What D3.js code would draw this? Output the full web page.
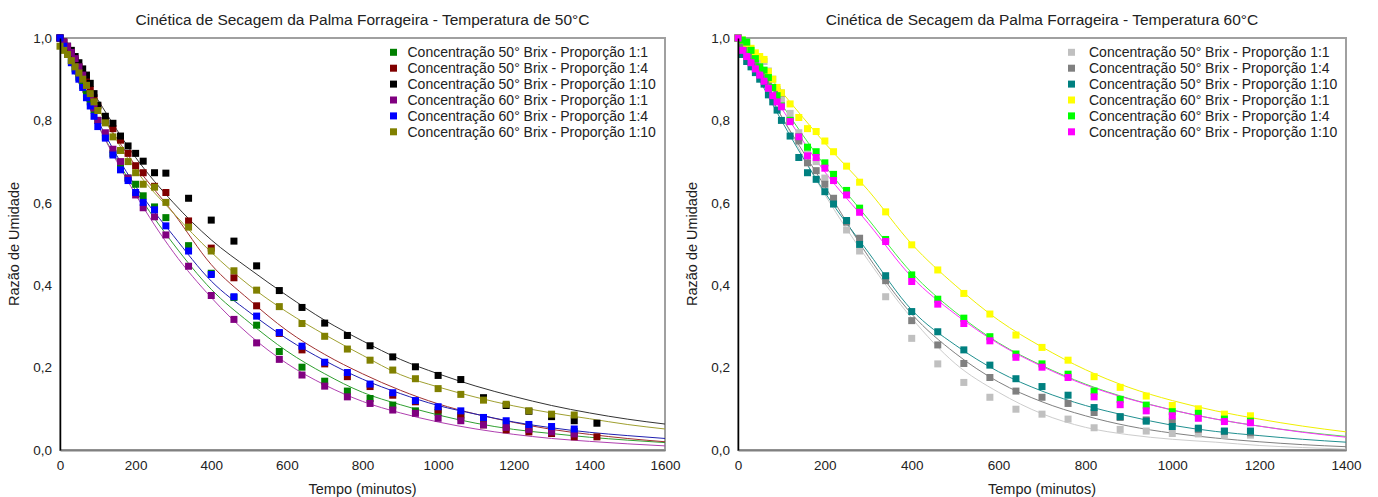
<!DOCTYPE html>
<html>
<head>
<meta charset="utf-8">
<script src="https://cdn.jsdelivr.net/npm/d3@7"></script>
<style>
  body { margin: 0; background: #fff; }
  svg text { font-family: "Liberation Sans", Arial, sans-serif; fill: #222; }
</style>
</head>
<body>
<svg id="chart" width="1378" height="497"></svg>
<script>
// --- data -----------------------------------------------------------------
const timeLeft = [0,10,20,30,40,50,60,70,80,90,100,120,140,160,180,200,220,250,280,
  340,400,460,520,580,640,700,760,820,880,940,1000,1060,1120,1180,1240,1300,1360,1420];
const timeRight = [0,10,20,30,40,50,60,70,80,90,100,120,140,160,180,200,220,250,280,
  340,400,460,520,580,640,700,760,820,880,940,1000,1060,1120,1180];

// 50 °C
const green50_11 = [1.0,0.98,0.96,0.945,0.925,0.905,0.885,0.865,0.845,0.825,0.80,0.76,0.72,0.69,0.66,0.645,0.617,0.59,0.564,
  0.496,0.429,0.37,0.303,0.239,0.201,0.167,0.143,0.125,0.109,0.095,0.091,0.08,0.07,0.062,0.055,0.05,0.045];
const red50_14 = [1.0,0.99,0.975,0.96,0.945,0.93,0.91,0.895,0.875,0.855,0.835,0.80,0.78,0.752,0.72,0.69,0.673,0.64,0.625,
  0.556,0.49,0.418,0.35,0.283,0.243,0.209,0.178,0.154,0.133,0.117,0.097,0.085,0.061,0.049,0.044,0.04,0.032,0.032];
const black50_110 = [1.0,0.99,0.98,0.97,0.955,0.94,0.925,0.91,0.89,0.865,0.837,0.81,0.793,0.762,0.738,0.72,0.701,0.673,0.672,
  0.611,0.558,0.507,0.447,0.387,0.346,0.308,0.278,0.253,0.226,0.202,0.181,0.171,0.127,0.108,0.094,0.081,0.071,0.065];
const purple60_11 = [1.0,0.99,0.98,0.965,0.95,0.93,0.91,0.885,0.86,0.83,0.80,0.77,0.73,0.70,0.66,0.619,0.588,0.566,0.522,
  0.446,0.375,0.317,0.26,0.22,0.182,0.155,0.129,0.113,0.097,0.089,0.077,0.071,0.061,0.055,0.05,0.044,0.039];
const blue60_14 = [1.0,0.98,0.96,0.94,0.92,0.90,0.88,0.855,0.835,0.81,0.785,0.757,0.716,0.68,0.654,0.625,0.601,0.583,0.544,
  0.483,0.426,0.372,0.325,0.285,0.252,0.213,0.188,0.16,0.139,0.12,0.105,0.095,0.079,0.071,0.062,0.057,0.051];
const olive60_110 = [0.98,0.97,0.96,0.945,0.93,0.915,0.90,0.885,0.865,0.845,0.824,0.794,0.76,0.727,0.70,0.673,0.645,0.638,0.601,
  0.541,0.483,0.435,0.388,0.348,0.307,0.276,0.245,0.218,0.194,0.173,0.149,0.135,0.121,0.111,0.095,0.087,0.085];

// 60 °C
const lgray50_11 = [1.0,0.99,0.98,0.97,0.955,0.945,0.943,0.92,0.90,0.875,0.85,0.817,0.77,0.73,0.70,0.66,0.61,0.534,0.483,
  0.372,0.271,0.209,0.164,0.128,0.099,0.087,0.075,0.054,0.05,0.046,0.04,0.039,0.036,0.036];
const gray50_14 = [1.0,0.985,0.97,0.955,0.94,0.925,0.91,0.895,0.88,0.87,0.866,0.80,0.75,0.697,0.678,0.645,0.611,0.553,0.514,
  0.411,0.314,0.255,0.21,0.176,0.143,0.128,0.113,0.091,0.079,0.073,0.068,0.05,0.045,0.042];
const teal50_110 = [1.0,0.96,0.943,0.93,0.916,0.90,0.888,0.862,0.845,0.825,0.80,0.762,0.71,0.673,0.657,0.627,0.597,0.557,0.499,
  0.423,0.336,0.287,0.243,0.206,0.173,0.154,0.133,0.103,0.081,0.07,0.057,0.053,0.046,0.046];
const yellow60_11 = [1.0,0.995,0.987,0.975,0.964,0.955,0.948,0.918,0.90,0.88,0.867,0.84,0.807,0.78,0.773,0.75,0.724,0.689,0.65,
  0.578,0.498,0.437,0.38,0.33,0.279,0.249,0.218,0.178,0.152,0.131,0.108,0.10,0.087,0.083];
const lime60_14 = [1.0,0.995,0.99,0.97,0.95,0.93,0.922,0.904,0.88,0.86,0.835,0.80,0.76,0.735,0.724,0.697,0.669,0.63,0.587,
  0.511,0.425,0.366,0.32,0.275,0.233,0.209,0.184,0.143,0.123,0.109,0.093,0.089,0.075,0.07];
const magenta60_110 = [1.0,0.97,0.955,0.94,0.925,0.91,0.895,0.878,0.86,0.845,0.833,0.797,0.76,0.714,0.71,0.684,0.654,0.619,0.577,
  0.506,0.409,0.354,0.307,0.265,0.225,0.201,0.176,0.129,0.11,0.095,0.083,0.077,0.069,0.066];

// fitted curves, read every 100 min
const fitTimeLeft = [0,100,200,300,400,500,600,700,800,900,1000,1100,1200,1300,1400,1500,1600];
const fitGreen50_11 = [1,0.79,0.63,0.50,0.39,0.31,0.24,0.185,0.14,0.11,0.085,0.065,0.05,0.04,0.031,0.024,0.018];
const fitRed50_14 = [1,0.83,0.69,0.575,0.45,0.365,0.29,0.232,0.185,0.145,0.112,0.087,0.067,0.05,0.038,0.028,0.02];
const fitBlack50_110 = [1,0.85,0.71,0.60,0.51,0.44,0.375,0.315,0.265,0.22,0.185,0.155,0.13,0.108,0.09,0.075,0.063];
const fitPurple60_11 = [1,0.79,0.62,0.48,0.37,0.28,0.21,0.158,0.118,0.09,0.068,0.051,0.038,0.028,0.021,0.015,0.01];
const fitBlue60_14 = [1,0.80,0.64,0.52,0.41,0.335,0.27,0.217,0.172,0.137,0.108,0.087,0.068,0.054,0.043,0.035,0.028];
const fitOlive60_110 = [1,0.83,0.68,0.575,0.48,0.40,0.335,0.28,0.23,0.183,0.153,0.128,0.107,0.09,0.076,0.062,0.051];

const fitTimeRight = [0,100,200,300,400,500,600,700,800,900,1000,1100,1200,1300,1400];
const fitLgray50_11 = [1,0.81,0.62,0.46,0.32,0.21,0.14,0.088,0.055,0.037,0.026,0.019,0.011,0.006,0.002];
const fitGray50_14 = [1,0.81,0.64,0.47,0.33,0.235,0.165,0.117,0.083,0.058,0.041,0.029,0.02,0.013,0.008];
const fitTeal50_110 = [1,0.80,0.625,0.48,0.34,0.255,0.19,0.143,0.108,0.082,0.06,0.045,0.035,0.026,0.019];
const fitYellow60_11 = [1,0.87,0.745,0.63,0.50,0.40,0.315,0.25,0.195,0.152,0.12,0.095,0.075,0.058,0.044];
const fitLime60_14 = [1,0.84,0.69,0.56,0.43,0.335,0.26,0.205,0.16,0.125,0.097,0.075,0.058,0.044,0.033];
const fitMagenta60_110 = [1,0.83,0.675,0.55,0.42,0.33,0.258,0.203,0.158,0.124,0.097,0.075,0.058,0.043,0.031];

const labels = [
  "Concentração 50° Brix - Proporção 1:1",
  "Concentração 50° Brix - Proporção 1:4",
  "Concentração 50° Brix - Proporção 1:10",
  "Concentração 60° Brix - Proporção 1:1",
  "Concentração 60° Brix - Proporção 1:4",
  "Concentração 60° Brix - Proporção 1:10"
];
const yTicks = [0, 0.2, 0.4, 0.6, 0.8, 1.0];
const xTicksLeft = [0,200,400,600,800,1000,1200,1400,1600];
const xTicksRight = [0,200,400,600,800,1000,1200,1400];

// --- drawing ---------------------------------------------------------------
const svg = d3.select("#chart");
svg.append("rect").attr("width", 1378).attr("height", 497).attr("fill", "#fff");

const comma = d => d3.format(".1f")(d).replace(".", ",");

function drawPanel(p) {
    const x = d3.scaleLinear().domain([0, p.xMax]).range([p.left, p.right]);
    const y = d3.scaleLinear().domain([0, 1]).range([450, 38]);
    const g = svg.append("g");

    // frame
    g.append("rect")
        .attr("x", p.left).attr("y", 38)
        .attr("width", p.right - p.left).attr("height", 412)
        .attr("fill", "none").attr("stroke", "#a0a0a0").attr("stroke-width", 2);

    // curves under the points
    const line = d3.line()
        .x(d => x(d[0])).y(d => y(d[1]))
        .curve(d3.curveMonotoneX);
    p.series.forEach(s => {
        g.append("path")
            .datum(p.fitTime.map((t, i) => [t, s.fit[i]]))
            .attr("d", line)
            .attr("fill", "none")
            .attr("stroke", s.line)
            .attr("stroke-width", 1);
    });

    // points
    p.series.forEach(s => {
        g.append("g").selectAll("rect")
            .data(s.values.map((v, i) => [p.time[i], v]))
            .enter()
            .append("rect")
            .attr("x", d => x(d[0]) - 3.5)
            .attr("y", d => y(d[1]) - 3.5)
            .attr("width", 7).attr("height", 7)
            .attr("fill", s.color);
    });

    // axes
    const ax = g.append("g").attr("transform", "translate(0,450)")
        .call(d3.axisBottom(x).tickValues(p.xTicks).tickFormat(d3.format("d"))
            .tickSize(0).tickSizeOuter(0).tickPadding(10));
    ax.select(".domain").attr("stroke", "#808080").attr("stroke-width", 2);
    ax.selectAll("text").attr("font-size", 13.5).attr("fill", "#222");

    const ay = g.append("g").attr("transform", "translate(" + p.left + ",0)")
        .call(d3.axisLeft(y).tickValues(yTicks).tickFormat(comma).tickSize(0).tickSizeOuter(0).tickPadding(8));
    ay.select(".domain").attr("stroke", "#000").attr("stroke-width", 1.5);
    ay.selectAll("text").attr("font-size", 13.5).attr("fill", "#222");

    // titles
    g.append("text")
        .attr("x", (p.left + p.right) / 2).attr("y", 25)
        .attr("text-anchor", "middle").attr("font-size", 15.5)
        .text(p.title);
    g.append("text")
        .attr("x", (p.left + p.right) / 2).attr("y", 494)
        .attr("text-anchor", "middle").attr("font-size", 14.5)
        .text("Tempo (minutos)");
    g.append("text")
        .attr("transform", "translate(" + (p.left - 41) + ",244) rotate(-90)")
        .attr("text-anchor", "middle").attr("font-size", 14.5)
        .text("Razão de Umidade");

    // legend
    const lg = g.append("g");
    p.series.forEach((s, i) => {
        const cy = 52.3 + i * 15.9;
        lg.append("rect")
            .attr("x", p.legendX - 3.5).attr("y", cy - 3.5)
            .attr("width", 7).attr("height", 7)
            .attr("fill", s.color);
        lg.append("text")
            .attr("x", p.legendTextX).attr("y", cy + 5)
            .attr("font-size", 14)
            .text(labels[i]);
    });
}

drawPanel({
    left: 60, right: 665, xMax: 1600, xTicks: xTicksLeft,
    time: timeLeft, fitTime: fitTimeLeft,
    title: "Cinética de Secagem da Palma Forrageira - Temperatura de 50°C",
    legendX: 393.5, legendTextX: 407.5,
    series: [
        { values: green50_11, fit: fitGreen50_11, color: "#008000", line: "#30a030" },
        { values: red50_14, fit: fitRed50_14, color: "#800000", line: "#a03030" },
        { values: black50_110, fit: fitBlack50_110, color: "#000000", line: "#333333" },
        { values: purple60_11, fit: fitPurple60_11, color: "#800080", line: "#b040b0" },
        { values: blue60_14, fit: fitBlue60_14, color: "#0000ff", line: "#2020b0" },
        { values: olive60_110, fit: fitOlive60_110, color: "#808000", line: "#a0a030" }
    ]
});

drawPanel({
    left: 738, right: 1346, xMax: 1400, xTicks: xTicksRight,
    time: timeRight, fitTime: fitTimeRight,
    title: "Cinética de Secagem da Palma Forrageira - Temperatura 60°C",
    legendX: 1071.5, legendTextX: 1089,
    series: [
        { values: lgray50_11, fit: fitLgray50_11, color: "#c0c0c0", line: "#cccccc" },
        { values: gray50_14, fit: fitGray50_14, color: "#808080", line: "#808080" },
        { values: teal50_110, fit: fitTeal50_110, color: "#008080", line: "#209090" },
        { values: yellow60_11, fit: fitYellow60_11, color: "#ffff00", line: "#f0f000" },
        { values: lime60_14, fit: fitLime60_14, color: "#00ff00", line: "#40f040" },
        { values: magenta60_110, fit: fitMagenta60_110, color: "#ff00ff", line: "#ff30ff" }
    ]
});
</script>
</body>
</html>
